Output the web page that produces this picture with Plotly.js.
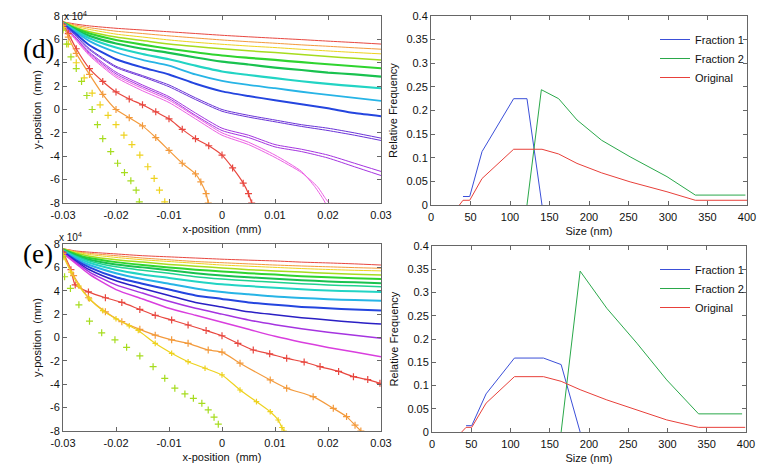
<!DOCTYPE html>
<html><head><meta charset="utf-8">
<script src="https://cdn.plot.ly/plotly-3.0.1.min.js"></script>
<style>html,body{margin:0;padding:0;background:#fff}#chart{width:760px;height:472px}</style>
</head><body><div id="chart"></div>
<script>
// ---------- shared x grid for left (trajectory) panels ----------
const xGrid = [-0.03, -0.0275, -0.025, -0.02, -0.015, -0.01, -0.005, 0, 0.005, 0.01, 0.015, 0.02, 0.025, 0.03];

// ---------- panel (d) left: line trajectories (y in units of 1e4) ----------
const dRed     = [7.5, 7.3, 7.15, 6.95, 6.8, 6.65, 6.5, 6.35, 6.22, 6.1, 5.98, 5.85, 5.73, 5.6];
const dOrange  = [7.5, 7.2, 7.0, 6.7, 6.5, 6.3, 6.12, 5.95, 5.8, 5.67, 5.53, 5.41, 5.28, 5.16];
const dYellow  = [7.5, 7.1, 6.85, 6.45, 6.2, 5.95, 5.75, 5.58, 5.43, 5.3, 5.15, 5.01, 4.88, 4.76];
const dYGreen  = [7.5, 7.0, 6.65, 6.2, 5.9, 5.6, 5.38, 5.19, 5.02, 4.87, 4.7, 4.53, 4.38, 4.24];
const dGreen   = [7.45, 6.9, 6.5, 5.95, 5.55, 5.2, 4.9, 4.62, 4.42, 4.24, 4.05, 3.87, 3.7, 3.53];
const dGreen2  = [7.45, 6.8, 6.3, 5.65, 5.2, 4.85, 4.45, 4.1, 3.85, 3.59, 3.38, 3.16, 3.0, 2.82];
const dTeal    = [7.4, 6.7, 6.1, 5.3, 4.75, 4.3, 3.75, 3.25, 2.95, 2.68, 2.42, 2.19, 2.0, 1.82];
const dCyan    = [7.4, 6.6, 5.85, 4.9, 4.25, 3.75, 3.0, 2.45, 2.1, 1.82, 1.52, 1.25, 1.0, 0.74];
const dBlue    = [7.35, 6.45, 5.5, 4.3, 3.6, 3.0, 2.2, 1.55, 1.15, 0.8, 0.45, 0.1, -0.3, -0.57];
const dViolet  = [7.3, 6.3, 5.2, 3.7, 2.9, 2.1, 1.0, 0.0, -0.5, -0.9, -1.3, -1.6, -2.0, -2.45];
const dViolet2 = [7.3, 6.25, 5.1, 3.6, 2.8, 1.95, 0.85, -0.15, -0.65, -1.05, -1.45, -1.8, -2.2, -2.65];
const dPurple  = [7.25, 6.1, 4.9, 3.2, 2.1, 1.1, -0.3, -1.6, -2.2, -3.0, -3.4, -3.9, -4.6, -5.3];
const dPurple2 = [7.25, 6.05, 4.8, 3.05, 1.95, 0.95, -0.5, -1.8, -2.4, -3.2, -3.6, -4.15, -4.9, -5.65];
const dPinkX   = [-0.03, -0.0275, -0.025, -0.02, -0.015, -0.01, -0.005, 0, 0.005, 0.01, 0.015, 0.0175, 0.019, 0.0195];
const dPink    = [7.2, 6.0, 4.7, 2.9, 1.8, 0.8, -0.6, -2.0, -2.8, -3.9, -5.3, -6.6, -7.6, -8.0];
const dPink2X  = [-0.03, -0.0275, -0.025, -0.02, -0.015, -0.01, -0.005, 0, 0.005, 0.01, 0.015, 0.018, 0.0195, 0.0202];
const dPink2   = [7.2, 5.9, 4.6, 2.75, 1.6, 0.6, -0.8, -2.2, -3.0, -4.1, -5.4, -6.6, -7.6, -8.0];
// marker (+) trajectories in (d)
const dRedMX   = [-0.03, -0.029, -0.0275, -0.025, -0.0225, -0.02, -0.0175, -0.015, -0.0125, -0.01, -0.0075, -0.005, -0.0025, 0, 0.002, 0.004, 0.005, 0.0056];
const dRedMY   = [7.3, 6.5, 5.2, 3.5, 2.4, 1.5, 0.9, 0.4, -0.2, -0.8, -1.7, -2.5, -3.1, -3.9, -5.0, -6.3, -7.2, -8.0];
const dOrgMX   = [-0.03, -0.029, -0.0275, -0.025, -0.0225, -0.02, -0.0175, -0.015, -0.0125, -0.01, -0.0075, -0.005, -0.004, -0.003, -0.0026];
const dOrgMY   = [7.2, 6.2, 4.8, 3.0, 1.3, 0.0, -0.7, -1.4, -2.4, -3.5, -4.6, -5.5, -6.2, -7.2, -8.0];
const dYelMX   = [-0.03, -0.029, -0.0275, -0.026, -0.0245, -0.023, -0.0215, -0.02, -0.0185, -0.017, -0.0155, -0.014, -0.0128, -0.0118, -0.0108];
const dYelMY   = [7.0, 5.6, 4.0, 2.7, 1.4, 0.4, -0.5, -1.3, -2.2, -3.0, -3.9, -4.9, -5.9, -6.9, -7.9];
const dGrnMX   = [-0.03, -0.0293, -0.0285, -0.0275, -0.0265, -0.0255, -0.0245, -0.0235, -0.0225, -0.021, -0.0197, -0.0184, -0.0172, -0.0162, -0.0156];
const dGrnMY   = [6.8, 5.6, 4.5, 3.5, 2.4, 1.2, 0.0, -1.3, -2.5, -3.6, -4.6, -5.4, -6.1, -6.9, -7.9];

// ---------- panel (e) left ----------
const eRed     = [7.6, 7.4, 7.3, 7.15, 7.0, 6.9, 6.8, 6.7, 6.62, 6.55, 6.45, 6.38, 6.3, 6.2];
const eOrange  = [7.6, 7.35, 7.2, 7.0, 6.8, 6.65, 6.5, 6.4, 6.3, 6.2, 6.12, 6.05, 5.98, 5.92];
const eYellow  = [7.6, 7.3, 7.1, 6.85, 6.65, 6.5, 6.35, 6.2, 6.1, 6.0, 5.9, 5.82, 5.75, 5.7];
const eYGreen  = [7.55, 7.2, 6.95, 6.65, 6.45, 6.25, 6.1, 5.95, 5.8, 5.7, 5.6, 5.5, 5.42, 5.35];
const eGreen   = [7.55, 7.1, 6.8, 6.45, 6.2, 6.0, 5.8, 5.65, 5.5, 5.38, 5.25, 5.15, 5.07, 5.0];
const eGreen2  = [7.5, 7.0, 6.65, 6.25, 6.0, 5.75, 5.5, 5.3, 5.15, 5.03, 4.9, 4.8, 4.72, 4.65];
const eGTeal   = [7.5, 6.95, 6.55, 6.05, 5.75, 5.5, 5.2, 5.0, 4.85, 4.72, 4.6, 4.5, 4.42, 4.35];
const eTeal    = [7.45, 6.85, 6.4, 5.8, 5.4, 5.1, 4.8, 4.55, 4.4, 4.25, 4.12, 4.02, 3.95, 3.9];
const eLBlue   = [7.4, 6.75, 6.2, 5.5, 5.0, 4.6, 4.2, 3.9, 3.7, 3.5, 3.38, 3.28, 3.2, 3.15];
const eBlue    = [7.35, 6.6, 6.0, 5.15, 4.6, 4.1, 3.6, 3.3, 3.0, 2.8, 2.62, 2.5, 2.4, 2.3];
const eDBlue   = [7.3, 6.5, 5.8, 4.85, 4.2, 3.6, 3.0, 2.6, 2.2, 1.95, 1.7, 1.5, 1.3, 1.15];
const ePurple  = [7.25, 6.4, 5.6, 4.5, 3.8, 3.1, 2.5, 2.0, 1.5, 1.1, 0.75, 0.45, 0.2, -0.07];
const eMagenta = [7.2, 6.3, 5.4, 4.1, 3.3, 2.5, 1.9, 1.3, 0.7, 0.1, -0.4, -0.85, -1.25, -1.64];
const eRedMX   = [-0.03, -0.0285, -0.0277, -0.0252, -0.022, -0.0189, -0.0155, -0.0126, -0.0095, -0.0064, -0.003, 0.0, 0.003, 0.0059, 0.009, 0.0122, 0.0155, 0.0185, 0.022, 0.0248, 0.0275, 0.0298];
const eRedMY   = [7.3, 5.8, 4.5, 3.9, 3.4, 3.0, 2.4, 1.9, 1.5, 1.07, 0.6, 0.15, -0.5, -1.07, -1.4, -1.78, -2.1, -2.49, -2.9, -3.35, -3.6, -3.92];
const eOrgMX   = [-0.03, -0.028, -0.0252, -0.022, -0.0189, -0.0155, -0.0126, -0.0095, -0.0064, -0.0026, 0.0, 0.0034, 0.0091, 0.0122, 0.0172, 0.021, 0.0235, 0.0251, 0.0262];
const eOrgMY   = [7.2, 5.3, 3.4, 2.2, 1.35, 0.7, 0.2, -0.2, -0.5, -1.07, -1.25, -2.2, -3.63, -4.34, -5.06, -6.06, -6.77, -7.5, -8.0];
const eYelMX   = [-0.03, -0.0285, -0.027, -0.025, -0.0225, -0.02, -0.0175, -0.0158, -0.0126, -0.0095, -0.0064, -0.0032, 0.0, 0.0034, 0.0065, 0.0091, 0.0106, 0.0113, 0.0117];
const eYelMY   = [7.0, 5.6, 4.4, 3.3, 2.3, 1.6, 1.0, 0.6, -0.5, -1.35, -2.07, -2.63, -3.2, -4.49, -5.49, -6.35, -7.06, -7.7, -8.0];
const eGrnMX   = [-0.03, -0.0297, -0.0286, -0.027, -0.025, -0.0227, -0.0202, -0.018, -0.0155, -0.013, -0.0108, -0.0089, -0.007, -0.0054, -0.0038, -0.0026, -0.0015, -0.0007];
const eGrnMY   = [6.9, 5.2, 4.2, 2.8, 1.4, 0.4, -0.2, -0.84, -1.58, -2.5, -3.49, -4.34, -4.83, -5.2, -5.63, -6.2, -6.82, -7.42];

// ---------- right panels: size distributions ----------
const seriesNames = ['Fraction 1', 'Fraction 2', 'Original'];
const dF1x = [40.5, 49, 64.6, 104.6, 121.5, 140.5];
const dF1y = [0.018, 0.018, 0.113, 0.225, 0.225, 0];
const dF2x = [121.5, 139.7, 161.6, 184.8, 216, 252, 298.7, 334.6, 398];
const dF2y = [0, 0.244, 0.225, 0.18, 0.137, 0.102, 0.06, 0.021, 0.021];
const dOrx = [36, 40.5, 49, 64.6, 104.6, 140.5, 161.6, 184.8, 216, 252, 298.7, 334.6, 400];
const dOry = [0, 0.01, 0.01, 0.056, 0.118, 0.118, 0.108, 0.088, 0.068, 0.049, 0.028, 0.01, 0.01];

const eF1x = [43.4, 50.6, 68.9, 105, 142, 164.5, 188.7];
const eF1y = [0.0136, 0.0136, 0.082, 0.159, 0.159, 0.145, 0];
const eF2x = [164.5, 188.7, 222.7, 261, 299, 339.6, 395];
const eF2y = [0, 0.346, 0.266, 0.191, 0.112, 0.039, 0.039];
const eOrx = [37.8, 43.4, 50.6, 68.9, 105, 142, 164.5, 188.7, 222.7, 261, 299, 339.6, 399];
const eOry = [0, 0.01, 0.01, 0.062, 0.119, 0.119, 0.109, 0.091, 0.069, 0.048, 0.026, 0.01, 0.01];

const xTicksL = [-0.03, -0.02, -0.01, 0, 0.01, 0.02, 0.03];
const xTickTextL = ['-0.03', '-0.02', '-0.01', '0', '0.01', '0.02', '0.03'];
const yTicksL = [-8, -6, -4, -2, 0, 2, 4, 6, 8];
const yTickTextL = ['-8', '-6', '-4', '-2', '0', '2', '4', '6', '8'];
const xTicksR = [0, 50, 100, 150, 200, 250, 300, 350, 400];
const yTicksR = [0, 0.05, 0.1, 0.15, 0.2, 0.25, 0.3, 0.35, 0.4];
const yTickTextR = ['0', '0.05', '0.1', '0.15', '0.2', '0.25', '0.3', '0.35', '0.4'];

// ---------- build traces ----------
const C = {
  red: '#e8473f', orange: '#f39a3c', yellow: '#eed21f', ygreen: '#a6dc1e', green: '#2fd42f',
  green2: '#19c24f', gteal: '#1fd28f', teal: '#22d4c4', cyan: '#27b4e6', lblue: '#2a8ee8',
  blue: '#2445df', dblue: '#2a1fc4', violet: '#6a33d8', purple: '#a534e0', magenta: '#d93ede', pink: '#ec5ee4'
};
const traces = [];
function line(xa, ya, ax, color, w) {
  traces.push({type: 'scatter', mode: 'lines', x: xa, y: ya, xaxis: 'x' + ax, yaxis: 'y' + ax,
    line: {color: color, width: w || 1, shape: 'spline', smoothing: 0.6}, showlegend: false, hoverinfo: 'skip'});
}
function marks(xa, ya, ax, color, withLine, sz) {
  traces.push({type: 'scatter', mode: withLine ? 'lines+markers' : 'markers', x: xa, y: ya, xaxis: 'x' + ax, yaxis: 'y' + ax,
    line: {color: color, width: 1.2, shape: 'spline', smoothing: 0.6},
    marker: {symbol: 'cross-thin', size: sz || 6, line: {color: color, width: 1.2}},
    showlegend: false, hoverinfo: 'skip'});
}
// (d) left
line(xGrid, dRed, '', C.red);
line(xGrid, dOrange, '', C.orange);
line(xGrid, dYellow, '', C.yellow);
line(xGrid, dYGreen, '', C.ygreen, 1.5);
line(xGrid, dGreen, '', C.green, 2.2);
line(xGrid, dGreen2, '', C.green2, 2.2);
line(xGrid, dTeal, '', C.teal, 2.2);
line(xGrid, dCyan, '', C.cyan, 1.8);
line(xGrid, dBlue, '', C.blue, 2);
line(xGrid, dViolet, '', C.violet);
line(xGrid, dViolet2, '', C.violet);
line(xGrid, dPurple, '', C.purple);
line(xGrid, dPurple2, '', C.purple);
line(dPinkX, dPink, '', C.pink);
line(dPink2X, dPink2, '', C.pink);
marks(dRedMX, dRedMY, '', C.red, true, 5);
marks(dOrgMX, dOrgMY, '', C.orange, true, 5);
marks(dYelMX, dYelMY, '', C.yellow, false, 5);
marks(dGrnMX, dGrnMY, '', C.ygreen, false, 5);
// (e) left
line(xGrid, eRed, '3', C.red);
line(xGrid, eOrange, '3', C.orange);
line(xGrid, eYellow, '3', C.yellow);
line(xGrid, eYGreen, '3', C.ygreen, 1.5);
line(xGrid, eGreen, '3', C.green, 2);
line(xGrid, eGreen2, '3', C.green2, 2);
line(xGrid, eGTeal, '3', C.gteal, 1.5);
line(xGrid, eTeal, '3', C.teal, 2);
line(xGrid, eLBlue, '3', C.cyan, 2);
line(xGrid, eBlue, '3', C.blue, 2);
line(xGrid, eDBlue, '3', C.dblue, 1.5);
line(xGrid, ePurple, '3', C.purple, 1.5);
line(xGrid, eMagenta, '3', C.magenta, 1.5);
marks(eRedMX, eRedMY, '3', C.red, true, 5);
marks(eOrgMX, eOrgMY, '3', C.orange, true, 5);
marks(eYelMX, eYelMY, '3', C.yellow, true, 4);
marks(eGrnMX, eGrnMY, '3', C.ygreen, false, 5);
// right panels
const distColors = ['#3b4fd8', '#2aa84a', '#e8403a'];
[[dF1x, dF1y], [dF2x, dF2y], [dOrx, dOry]].forEach((s, i) => traces.push({type: 'scatter', mode: 'lines', x: s[0], y: s[1],
  xaxis: 'x2', yaxis: 'y2', name: seriesNames[i], legend: 'legend', legendrank: i + 1, line: {color: distColors[i], width: 1}}));
[[eF1x, eF1y], [eF2x, eF2y], [eOrx, eOry]].forEach((s, i) => traces.push({type: 'scatter', mode: 'lines', x: s[0], y: s[1],
  xaxis: 'x4', yaxis: 'y4', name: seriesNames[i], legend: 'legend2', legendrank: i + 1, line: {color: distColors[i], width: 1}}));

// ---------- layout ----------
const FONT = 'Liberation Sans, Arial, sans-serif';
const W = 760, H = 472;
const px = v => v / W, py = v => 1 - v / H;
function axBase() {
  return {showgrid: false, zeroline: false, showline: true, linecolor: '#666', linewidth: 1, mirror: 'ticks',
    ticks: 'inside', ticklen: 4, tickcolor: '#666', tickfont: {family: FONT, size: 11, color: '#111'}, fixedrange: true};
}
function xL(dom, anchor) { return Object.assign(axBase(), {domain: dom, anchor: anchor, range: [-0.03, 0.03], ticklabelstandoff: 2,
  tickvals: xTicksL, ticktext: xTickTextL, title: {text: 'x-position  (mm)', font: {family: FONT, size: 11, color: '#111'}, standoff: 5}}); }
function yL(dom, anchor) { return Object.assign(axBase(), {domain: dom, anchor: anchor, range: [-8, 8],
  tickvals: yTicksL, ticktext: yTickTextL, title: {text: 'y-position  (mm)', font: {family: FONT, size: 11, color: '#111'}, standoff: 6}}); }
function xR(dom, anchor) { return Object.assign(axBase(), {domain: dom, anchor: anchor, range: [0, 400], ticklabelstandoff: 2,
  tickvals: xTicksR, title: {text: 'Size (nm)', font: {family: FONT, size: 11, color: '#111'}, standoff: 5}}); }
function yR(dom, anchor) { return Object.assign(axBase(), {domain: dom, anchor: anchor, range: [0, 0.4],
  tickvals: yTicksR, ticktext: yTickTextR, title: {text: 'Relative Frequency', font: {family: FONT, size: 11, color: '#111'}, standoff: 6}}); }

const layout = {
  width: W, height: H, margin: {l: 0, r: 0, t: 0, b: 0}, paper_bgcolor: '#fff', plot_bgcolor: '#fff',
  font: {family: FONT, size: 11, color: '#111'},
  xaxis: xL([px(63), px(381)], 'y'), yaxis: yL([py(203), py(16)], 'x'),
  xaxis2: xR([px(431), px(747)], 'y2'), yaxis2: yR([py(205), py(16)], 'x2'),
  xaxis3: xL([px(63), px(381)], 'y3'), yaxis3: yL([py(431), py(244)], 'x3'),
  xaxis4: xR([px(432), px(746)], 'y4'), yaxis4: yR([py(432), py(246)], 'x4'),
  legend: {x: px(655), y: py(25), xanchor: 'left', yanchor: 'top', traceorder: 'normal', bgcolor: 'rgba(255,255,255,0)', borderwidth: 0,
    font: {family: FONT, size: 11, color: '#111'}, tracegroupgap: 0},
  legend2: {x: px(655), y: py(255), xanchor: 'left', yanchor: 'top', traceorder: 'normal', bgcolor: 'rgba(255,255,255,0)', borderwidth: 0,
    font: {family: FONT, size: 11, color: '#111'}, tracegroupgap: 0},
  annotations: [
    {text: '(d)', xref: 'paper', yref: 'paper', x: px(21), y: py(32), showarrow: false, font: {family: 'Liberation Serif, Times New Roman, serif', size: 27, color: '#000'}},
    {text: '(e)', xref: 'paper', yref: 'paper', x: px(21), y: py(254), showarrow: false, font: {family: 'Liberation Serif, Times New Roman, serif', size: 27, color: '#000'}},
    {text: 'x 10<sup>4</sup>', xref: 'paper', yref: 'paper', x: px(62), y: py(8), xanchor: 'left', showarrow: false, font: {family: FONT, size: 10, color: '#111'}},
    {text: 'x 10<sup>4</sup>', xref: 'paper', yref: 'paper', x: px(57), y: py(237), xanchor: 'left', showarrow: false, font: {family: FONT, size: 10, color: '#111'}}
  ]
};
Plotly.newPlot('chart', traces, layout, {displayModeBar: false, staticPlot: true});
</script></body></html>
